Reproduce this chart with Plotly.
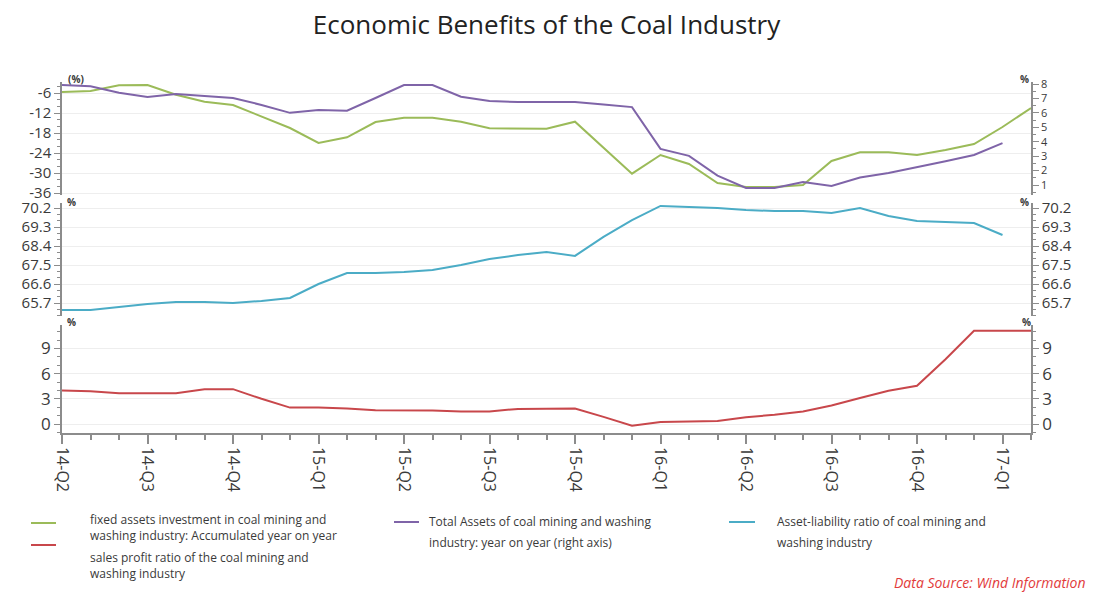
import plotly.graph_objects as go

# ---------------- data (monthly, first point = 14-Q2) ----------------
quarter_labels = ["14-Q2", "14-Q3", "14-Q4", "15-Q1", "15-Q2", "15-Q3",
                  "15-Q4", "16-Q1", "16-Q2", "16-Q3", "16-Q4", "17-Q1"]

fixed_assets_inv = [-5.7, -5.4, -3.7, -3.6, -6.5, -8.6, -9.6, -13.0, -16.5, -21.0,
                    -19.3, -14.7, -13.4, -13.4, -14.6, -16.6, -16.7, -16.7, -14.6, -22.5,
                    -30.2, -24.6, -27.3, -33.0, -34.2, -34.2, -33.6, -26.4, -23.8, -23.8,
                    -24.6, -23.1, -21.3, -16.2, -10.5]

total_assets_yoy = [7.93, 7.85, 7.4, 7.1, 7.3, 7.17, 7.03, 6.55, 6.0, 6.2,
                    6.15, 7.03, 7.93, 7.93, 7.12, 6.82, 6.75, 6.75, 6.75, 6.58,
                    6.4, 3.5, 3.02, 1.65, 0.8, 0.8, 1.2, 0.93, 1.52, 1.83,
                    2.22, 2.65, 3.08, 3.9]

asset_liability = [65.37, 65.37, 65.51, 65.65, 65.75, 65.75, 65.7, 65.8, 65.94, 66.6,
                   67.12, 67.12, 67.17, 67.26, 67.5, 67.78, 67.97, 68.12, 67.93, 68.83,
                   69.63, 70.3, 70.25, 70.2, 70.1, 70.06, 70.06, 69.96, 70.2, 69.82,
                   69.58, 69.54, 69.49, 68.92]

sales_profit = [4.0, 3.9, 3.65, 3.65, 3.65, 4.15, 4.15, 3.0, 1.95, 1.95,
                1.85, 1.65, 1.65, 1.6, 1.5, 1.5, 1.8, 1.85, 1.85, 0.85,
                -0.2, 0.25, 0.3, 0.35, 0.8, 1.1, 1.5, 2.2, 3.1, 3.95,
                4.55, 7.7, 11.1, 11.1, 11.1]

top_left_ticks = [-6, -12, -18, -24, -30, -36]
top_right_ticks = [1, 2, 3, 4, 5, 6, 7, 8]
mid_ticks = [65.7, 66.6, 67.5, 68.4, 69.3, 70.2]
bot_ticks = [0, 3, 6, 9]

legend_names = [
    "fixed assets investment in coal mining and<br>washing industry: Accumulated year on year",
    "Total Assets of coal mining and washing<br>industry: year on year (right axis)",
    "Asset-liability ratio of coal mining and<br>washing industry",
    "sales profit ratio of the coal mining and<br>washing industry",
]

# ---------------- styles ----------------
C_GREEN = "#9BBB59"
C_PURPLE = "#7F64A8"
C_BLUE = "#4BACC6"
C_RED = "#C8474B"
AXIS_C = "#8c8c8c"
TXT_C = "#3a3a3a"
GRID_C = "#eeeeee"
FONT = "Open Sans"

W, H = 1093, 593
L, R = 62, 1031          # plot-area x pixels
TOP, BOT = 82, 433       # plot-area y pixels


def px_x(p):
    return (p - L) / (R - L)


def px_y(p):
    return (BOT - p) / (BOT - TOP)


def months(seq):
    return list(range(len(seq)))


fig = go.Figure()
fig.add_trace(go.Scatter(x=months(fixed_assets_inv), y=fixed_assets_inv, mode="lines",
                         line=dict(color=C_GREEN, width=2), xaxis="x", yaxis="y",
                         name="fixed assets investment"))
fig.add_trace(go.Scatter(x=months(total_assets_yoy), y=total_assets_yoy, mode="lines",
                         line=dict(color=C_PURPLE, width=2), xaxis="x", yaxis="y2",
                         name="Total Assets"))
fig.add_trace(go.Scatter(x=months(asset_liability), y=asset_liability, mode="lines",
                         line=dict(color=C_BLUE, width=2), xaxis="x", yaxis="y3",
                         name="Asset-liability ratio"))
fig.add_trace(go.Scatter(x=months(sales_profit), y=sales_profit, mode="lines",
                         line=dict(color=C_RED, width=2), xaxis="x", yaxis="y5",
                         name="sales profit ratio"))
# empty traces so the mirrored right-hand axes of the lower panels are drawn
for ax in ("y4", "y6"):
    fig.add_trace(go.Scatter(x=[], y=[], mode="lines", xaxis="x", yaxis=ax,
                             hoverinfo="skip", showlegend=False))


def yax(domain, rng, ticks, minor_step, side="left", overlay=None, grid=True, fsize=17):
    d = dict(domain=domain, range=rng, tickmode="array", tickvals=ticks,
             ticktext=[("%g" % t) for t in ticks], side=side, anchor="x",
             showline=True, linecolor=AXIS_C, linewidth=1.5,
             ticks="outside", ticklen=6, tickcolor=AXIS_C, tickwidth=1,
             tickfont=dict(family=FONT, size=fsize, color=TXT_C),
             showgrid=grid, gridcolor=GRID_C, gridwidth=1,
             zeroline=False, fixedrange=True,
             minor=dict(dtick=minor_step, ticks="outside", ticklen=3,
                        tickcolor=AXIS_C, showgrid=False))
    if overlay:
        d["overlaying"] = overlay
    return d


dom_top = [px_y(195), px_y(82)]
dom_mid = [px_y(316), px_y(203)]
dom_bot = [0, px_y(325)]

rng_top_l = [-6 - (195 - 93) / (100 / 30), -6 + (93 - 82) / (100 / 30)]
rng_top_r = [8 - (195 - 84) / (101 / 7), 8 + (84 - 82) / (101 / 7)]
rng_mid = [70.2 - (316 - 208) / (95 / 4.5), 70.2 + (208 - 203) / (95 / 4.5)]
rng_bot = [(424 - 433) / 8.4, (424 - 325) / 8.4]

n_months = len(fixed_assets_inv)

fig.update_layout(
    width=W, height=H,
    margin=dict(l=L, r=W - R, t=TOP, b=H - BOT),
    paper_bgcolor="white", plot_bgcolor="white",
    showlegend=False,
    title=dict(text="Economic Benefits of the Coal Industry", x=0.5, xanchor="center",
               y=1 - 25 / H, yanchor="middle",
               font=dict(family=FONT, size=26, color="#222222")),
    xaxis=dict(domain=[0, 1], range=[0, n_months - 1], anchor="y5",
               tickmode="array", tickvals=[3 * i for i in range(len(quarter_labels))],
               ticktext=quarter_labels, tickangle=90,
               tickfont=dict(family=FONT, size=16, color=TXT_C),
               showline=True, linecolor=AXIS_C, linewidth=1.5,
               ticks="outside", ticklen=9, tickcolor=AXIS_C, tickwidth=1.5,
               showgrid=False, zeroline=False, fixedrange=True,
               minor=dict(tickmode="array", tickvals=list(range(n_months)),
                          ticks="outside", ticklen=5, tickcolor=AXIS_C, showgrid=False)),
    yaxis=yax(dom_top, rng_top_l, top_left_ticks, 2, fsize=15),
    yaxis2=yax(dom_top, rng_top_r, top_right_ticks, 0.5, side="right", overlay="y",
               grid=False, fsize=11),
    yaxis3=yax(dom_mid, rng_mid, mid_ticks, 0.3, fsize=15),
    yaxis4=yax(dom_mid, rng_mid, mid_ticks, 0.3, side="right", overlay="y3", grid=False,
               fsize=15),
    yaxis5=yax(dom_bot, rng_bot, bot_ticks, 1),
    yaxis6=yax(dom_bot, rng_bot, bot_ticks, 1, side="right", overlay="y5", grid=False),
)

# unit labels at the top of each axis
unit_labels = [("(%)", 76, 79), ("%", 1024, 79), ("%", 71, 202), ("%", 1024, 202),
               ("%", 71, 322), ("%", 1026, 322)]
for txt, px, py in unit_labels:
    fig.add_annotation(x=px_x(px), y=px_y(py), xref="paper", yref="paper", text="<b>%s</b>" % txt,
                       showarrow=False, xanchor="center", yanchor="middle",
                       font=dict(family=FONT, size=10, color=TXT_C))

# custom legend (line sample + text)
legend_items = [
    (C_GREEN, legend_names[0], 31, 56, 523, 88, 519, 535),
    (C_PURPLE, legend_names[1], 394, 419, 522, 427, 521, 542),
    (C_BLUE, legend_names[2], 729, 755, 522, 775, 521, 542),
    (C_RED, legend_names[3], 31, 56, 545, 88, 557, 573),
]
for color, name, x0, x1, ly, tx, ty1, ty2 in legend_items:
    fig.add_shape(type="line", xref="paper", yref="paper",
                  x0=px_x(x0), x1=px_x(x1), y0=px_y(ly), y1=px_y(ly),
                  line=dict(color=color, width=2))
    lines = name.split("<br>")
    for text, ty in zip(lines, (ty1, ty2)):
        fig.add_annotation(x=px_x(tx), y=px_y(ty), xref="paper", yref="paper", text=text,
                           showarrow=False, xanchor="left", yanchor="middle",
                           font=dict(family=FONT, size=12, color=TXT_C))

fig.add_annotation(x=px_x(1088), y=px_y(582), xref="paper", yref="paper",
                   text="<i>Data Source: Wind Information</i>", showarrow=False,
                   xanchor="right", yanchor="middle",
                   font=dict(family=FONT, size=14, color="#E23B3B"))

# remove the browser's default 8px body margin so pixel positions match
fig.write_html("out.html", config={"displayModeBar": False},
               post_script="document.body.style.margin='0px';")
